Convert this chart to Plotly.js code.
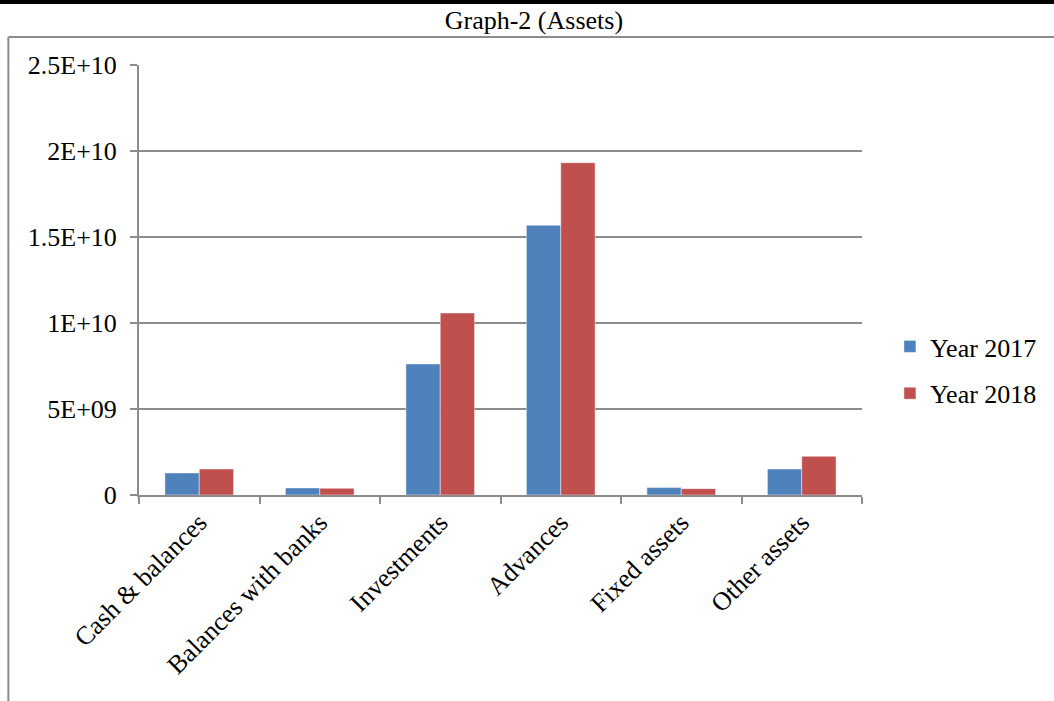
<!DOCTYPE html>
<html>
<head>
<meta charset="utf-8">
<script src="https://cdn.plot.ly/plotly-3.0.1.min.js"></script>
<style>
  html, body { margin: 0; padding: 0; background: #fff; }
  #chart { width: 1054px; height: 701px; }
</style>
</head>
<body>
<div id="chart"></div>
<script>
const categories = ["Cash & balances", "Balances with banks", "Investments", "Advances", "Fixed assets", "Other assets"];
const year2017 = [1.28e9, 0.41e9, 7.62e9, 15.68e9, 0.43e9, 1.51e9];
const year2018 = [1.51e9, 0.39e9, 10.58e9, 19.32e9, 0.37e9, 2.25e9];
const yTickVals = [0, 5e9, 1e10, 1.5e10, 2e10, 2.5e10];
const yTickText = ["0", "5E+09", "1E+10", "1.5E+10", "2E+10", "2.5E+10"];

const FONT = "Liberation Serif, Times New Roman, serif";
const GRID = "#8c8c8c";

// plot area in pixels: x 139..864, y 65..495
const L = 139, R = 864, T = 65, B = 495;
const px = v => (v - L) / (R - L);
const py = v => (B - v) / (B - T);

const traces = [
  { type: "bar", name: "Year 2017", x: categories, y: year2017, legendgroup: "a",
    marker: { color: "#4F81BD", line: { color: "rgba(255,255,255,0.45)", width: 1 } } },
  { type: "bar", name: "Year 2018", x: categories, y: year2018, legendgroup: "b",
    marker: { color: "#C0504D", line: { color: "rgba(255,255,255,0.45)", width: 1 } } }
];

const layout = {
  width: 1054, height: 701,
  margin: { l: L, r: 1054 - R, t: T, b: 701 - B, pad: 0 },
  paper_bgcolor: "#fff", plot_bgcolor: "#fff",
  font: { family: FONT, size: 26, color: "#000" },
  title: { text: "Graph-2 (Assets)", font: { family: FONT, size: 26, color: "#000" },
           x: px(535), xref: "paper", xanchor: "center", y: 0.972, yanchor: "middle" },
  barmode: "group", bargap: 0.43, bargroupgap: 0,
  showlegend: true,
  legend: { x: px(892), xanchor: "left", y: py(370), yanchor: "middle",
            font: { family: FONT, size: 26, color: "#000" }, traceorder: "grouped", tracegroupgap: 10,
            itemwidth: 30, bgcolor: "rgba(0,0,0,0)" },
  xaxis: {
    type: "category", tickson: "boundaries", ticks: "outside", ticklen: 7, tickwidth: 2,
    tickcolor: GRID, showline: true, linecolor: GRID, linewidth: 2, showgrid: false,
    tickangle: -45, tickfont: { family: FONT, size: 26, color: "#000" }, automargin: false
  },
  yaxis: {
    range: [0, 2.5e10], tickvals: yTickVals, ticktext: yTickText,
    ticks: "outside", ticklen: 7, tickwidth: 2, tickcolor: GRID, ticklabelstandoff: 8,
    showline: true, linecolor: GRID, linewidth: 2,
    showgrid: true, gridcolor: GRID, gridwidth: 2, zeroline: false,
    tickfont: { family: FONT, size: 26, color: "#000" }, automargin: false
  },
  shapes: [
    { type: "rect", xref: "paper", yref: "paper", x0: px(-5), x1: px(1060), y0: py(4), y1: py(-5),
      fillcolor: "#000", line: { width: 0 } },
    { type: "line", xref: "paper", yref: "paper", x0: px(8), x1: px(1060), y0: py(37), y1: py(37),
      line: { color: "#8c8c8c", width: 2 } },
    { type: "line", xref: "paper", yref: "paper", x0: px(8), x1: px(8), y0: py(37), y1: py(710),
      line: { color: "#8c8c8c", width: 2 } }
  ]
};

Plotly.newPlot("chart", traces, layout, { displayModeBar: false, staticPlot: true });
</script>
</body>
</html>
